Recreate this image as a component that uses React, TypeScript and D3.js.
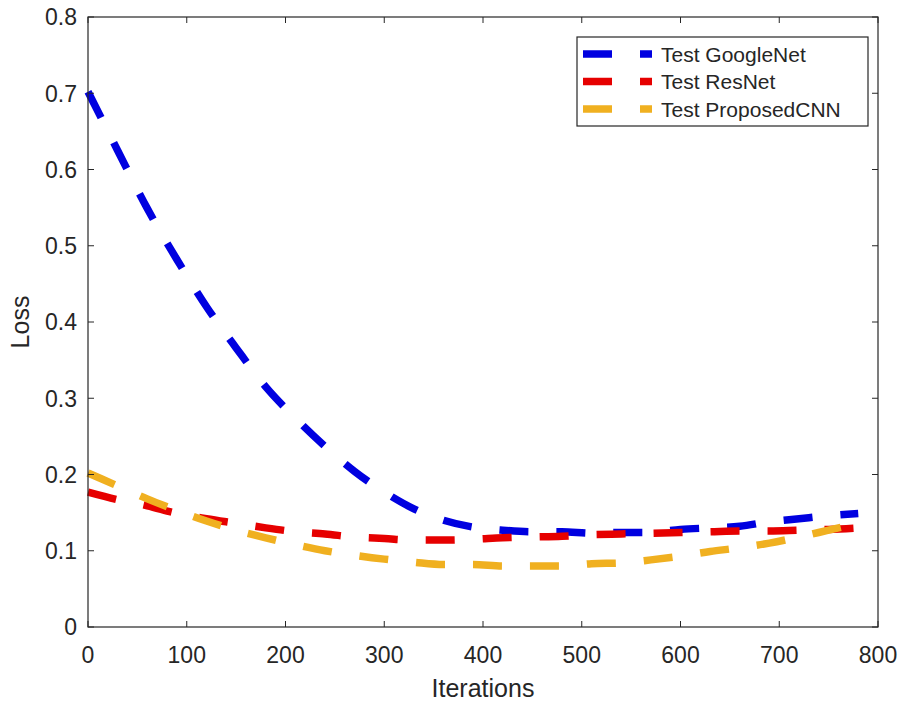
import React from "react";
import * as d3 from "d3";

// iterations sampled along each curve
const iterations = [0, 30, 60, 90, 120, 150, 180, 210, 240, 270, 300, 330, 360, 390, 420, 450, 480, 510, 540, 570, 600, 630, 660, 690, 720, 750, 780];

// loss values
const googleNet = [0.702, 0.625, 0.549, 0.482, 0.42, 0.366, 0.315, 0.274, 0.237, 0.204, 0.177, 0.155, 0.14, 0.131, 0.127, 0.125, 0.125, 0.123, 0.124, 0.124, 0.128, 0.13, 0.132, 0.138, 0.142, 0.146, 0.149];
const resNet = [0.177, 0.167, 0.159, 0.149, 0.142, 0.136, 0.13, 0.125, 0.122, 0.118, 0.116, 0.114, 0.114, 0.115, 0.117, 0.118, 0.119, 0.121, 0.122, 0.123, 0.124, 0.125, 0.126, 0.126, 0.127, 0.128, 0.13];
const proposedCNN = [0.202, 0.185, 0.168, 0.153, 0.139, 0.127, 0.117, 0.108, 0.1, 0.094, 0.089, 0.085, 0.082, 0.082, 0.08, 0.08, 0.08, 0.083, 0.084, 0.088, 0.093, 0.099, 0.104, 0.11, 0.118, 0.127, 0.136];

const seriesNames = ["Test GoogleNet", "Test ResNet", "Test ProposedCNN"];
const seriesValues = [googleNet, resNet, proposedCNN];
const seriesColors = ["#0000e0", "#e60000", "#f0b020"];

const xTicks = [0, 100, 200, 300, 400, 500, 600, 700, 800];
const yTicks = [0, 0.1, 0.2, 0.3, 0.4, 0.5, 0.6, 0.7, 0.8];

const W = 900;
const H = 705;
const left = 88, right = 878, top = 17, bottom = 627;
const axisColor = "#262626";
const font = "'Liberation Sans', Arial, sans-serif";

export default function App() {
  const x = d3.scaleLinear().domain([0, 800]).range([left, right]);
  const y = d3.scaleLinear().domain([0, 0.8]).range([bottom, top]);

  const line = d3
    .line<number>()
    .x((_, i) => x(iterations[i]))
    .y((v) => y(v))
    .curve(d3.curveMonotoneX);

  const tick = 6;
  const dash = "29 28";

  return (
    <svg width={W} height={H} style={{ position: "absolute", left: 0, top: 0, background: "#fff" }} fontFamily={font}>
      <rect x={0} y={0} width={W} height={H} fill="#fff" />

      {/* curves */}
      {seriesValues.map((vals, k) => (
        <path
          key={seriesNames[k]}
          d={line(vals) || ""}
          fill="none"
          stroke={seriesColors[k]}
          strokeWidth={7.5}
          strokeDasharray={dash}
          strokeLinecap="butt"
        />
      ))}

      {/* box */}
      <rect x={left} y={top} width={right - left} height={bottom - top} fill="none" stroke={axisColor} strokeWidth={1.2} />

      {/* x ticks */}
      {xTicks.map((t) => (
        <g key={"x" + t}>
          <line x1={x(t)} x2={x(t)} y1={bottom} y2={bottom - tick} stroke={axisColor} />
          <line x1={x(t)} x2={x(t)} y1={top} y2={top + tick} stroke={axisColor} />
          <text x={x(t)} y={663} textAnchor="middle" fontSize={23} fill={axisColor}>
            {t}
          </text>
        </g>
      ))}

      {/* y ticks */}
      {yTicks.map((t) => (
        <g key={"y" + t}>
          <line x1={left} x2={left + tick} y1={y(t)} y2={y(t)} stroke={axisColor} />
          <line x1={right} x2={right - tick} y1={y(t)} y2={y(t)} stroke={axisColor} />
          <text x={77} y={y(t)} dy="0.36em" textAnchor="end" fontSize={23} fill={axisColor}>
            {d3.format("~g")(t)}
          </text>
        </g>
      ))}

      {/* axis labels */}
      <text x={(left + right) / 2} y={697} textAnchor="middle" fontSize={25} fill={axisColor}>
        Iterations
      </text>
      <text transform={`translate(29, ${(top + bottom) / 2}) rotate(-90)`} textAnchor="middle" fontSize={25} fill={axisColor}>
        Loss
      </text>

      {/* legend */}
      <g>
        <rect x={577} y={37} width={291} height={89} fill="#fff" stroke={axisColor} strokeWidth={1.2} />
        {seriesNames.map((name, k) => {
          const ry = 54 + k * 27.5;
          return (
            <g key={name}>
              <line x1={583} x2={652} y1={ry} y2={ry} stroke={seriesColors[k]} strokeWidth={7.5} strokeDasharray={dash} />
              <text x={661} y={ry} dy="0.36em" fontSize={21} fill={axisColor}>
                {name}
              </text>
            </g>
          );
        })}
      </g>
    </svg>
  );
}
